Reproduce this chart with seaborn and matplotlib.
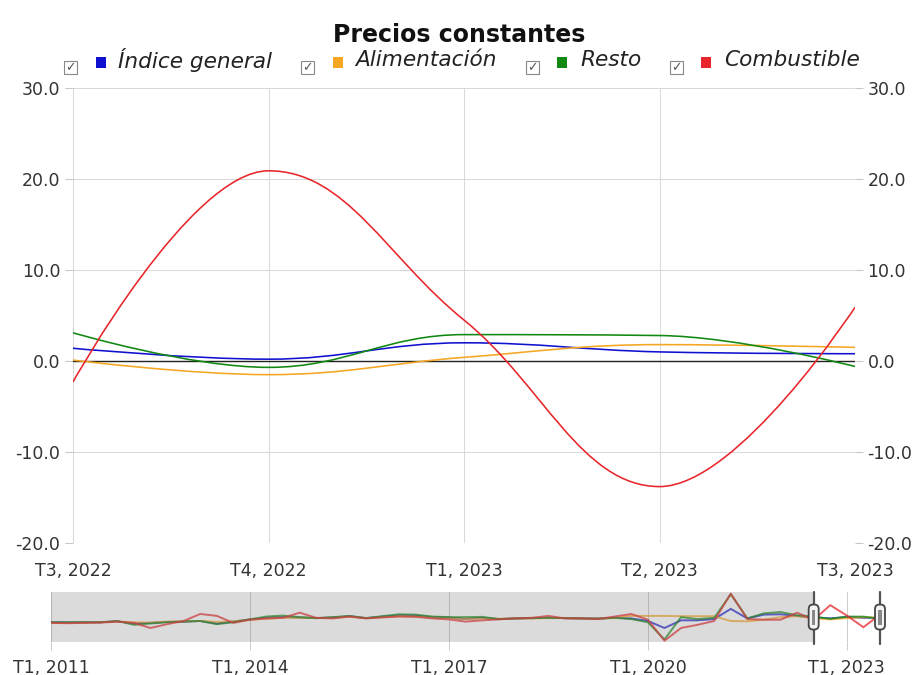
import matplotlib

matplotlib.use("Agg")
import matplotlib.pyplot as plt
import pandas as pd
import seaborn as sns
from matplotlib.patches import FancyBboxPatch, PathPatch, Rectangle
from matplotlib.path import Path
from matplotlib.transforms import ScaledTranslation

# main window, T3 2022 .. T3 2023
main_labels = ["T3, 2022", "T4, 2022", "T1, 2023", "T2, 2023", "T3, 2023"]
indice_general = [1.4, 0.2, 2.0, 1.0, 0.8]
alimentacion = [0.1, -1.5, 0.4, 1.8, 1.5]
resto = [3.1, -0.7, 2.9, 2.8, -0.6]
combustible = [-2.3, 20.9, 4.5, -13.8, 5.9]

# navigator history, T1 2011 .. T2 2022 (main window values follow)
hist_indice = [-6.0, -6.2, -6.0, -6.0, -4.5, -8.0, -7.0, -5.5, -5.0, -4.0,
               -8.0, -5.0, -1.5, 1.0, 2.0, 1.5, 0.5, 1.5, 3.5, 0.5,
               3.0, 5.0, 4.5, 2.0, 1.5, -1.0, 1.0, -1.0, 0.0, 0.5,
               1.0, 0.5, 0.0, 0.0, 1.0, 0.0, -4.0, -15.0, -3.0, -3.0,
               -1.0, 15.0, 0.0, 6.0, 6.5, 4.0]
hist_alim = [-7.0, -7.0, -6.5, -6.0, -5.0, -6.0, -6.5, -5.0, -4.5, -4.0,
             -5.5, -4.5, -2.0, -0.5, 1.0, 1.0, 0.5, 1.0, 2.5, 0.5,
             2.0, 3.5, 3.0, 1.5, 1.0, -1.0, 0.0, -0.5, 0.0, 0.0,
             0.5, 0.5, 0.0, 0.0, 0.5, 4.0, 4.0, 4.0, 3.5, 3.5,
             3.5, -4.0, -4.5, -2.0, 2.0, 3.5]
hist_resto = [-6.0, -6.0, -6.0, -6.0, -4.0, -10.0, -8.0, -6.0, -5.0, -4.0,
              -9.0, -6.0, -1.5, 3.0, 4.5, 2.0, 0.5, 2.0, 4.0, 0.5,
              3.5, 6.5, 6.0, 3.0, 2.0, 2.0, 2.5, -1.0, 0.0, 0.5,
              1.0, 0.5, 0.0, -0.5, 1.0, -1.0, -6.0, -33.0, 2.0, -1.0,
              1.0, 38.0, 0.0, 8.0, 10.0, 5.0]
hist_comb = [-7.0, -7.5, -7.0, -6.5, -5.0, -7.0, -15.0, -9.0, -4.0, 7.0,
             4.0, -7.0, -2.0, 0.0, 1.0, 9.0, 1.0, 0.0, 3.0, 0.0,
             1.5, 3.0, 2.5, 0.0, -1.5, -5.0, -3.0, -1.5, 0.0, 1.0,
             4.0, 0.0, 0.0, -1.0, 3.0, 7.0, -2.0, -35.0, -15.0, -10.0,
             -4.0, 39.0, -1.0, -2.0, -2.0, 9.0]

series_names = ["Índice general", "Alimentación", "Resto", "Combustible"]
colors = ["#1010d0", "#f5a623", "#118811", "#e8262b"]
main_values = [indice_general, alimentacion, resto, combustible]
hist_values = [hist_indice, hist_alim, hist_resto, hist_comb]

periods = pd.period_range("2011Q1", "2023Q3", freq="Q")
nav_tick_pos = [0, 12, 24, 36, 48]
nav_tick_labels = [f"T{periods[i].quarter}, {periods[i].year}" for i in nav_tick_pos]
window_start = len(hist_indice)

sns.set_theme(style="whitegrid")
plt.rcParams["font.family"] = ["DejaVu Sans"]
TXT = "#333333"
W, H = 919, 675


def spline_path(xs, ys, smoothing=1.5):
    # highcharts-like spline: bezier through every point, flat at extremes
    n = len(xs)
    left, right = [None] * n, [None] * n
    denom = smoothing + 1
    for i in range(1, n - 1):
        lx, ly, px, py, nx, ny = xs[i - 1], ys[i - 1], xs[i], ys[i], xs[i + 1], ys[i + 1]
        lcx, lcy = (smoothing * px + lx) / denom, (smoothing * py + ly) / denom
        rcx, rcy = (smoothing * px + nx) / denom, (smoothing * py + ny) / denom
        corr = (rcy - lcy) * (rcx - px) / (rcx - lcx) + py - rcy
        lcy += corr
        rcy += corr
        if lcy > ly and lcy > py:
            lcy = max(ly, py); rcy = 2 * py - lcy
        elif lcy < ly and lcy < py:
            lcy = min(ly, py); rcy = 2 * py - lcy
        if rcy > ny and rcy > py:
            rcy = max(ny, py); lcy = 2 * py - rcy
        elif rcy < ny and rcy < py:
            rcy = min(ny, py); lcy = 2 * py - rcy
        left[i], right[i] = (lcx, lcy), (rcx, rcy)
    verts, codes = [(xs[0], ys[0])], [Path.MOVETO]
    for i in range(1, n):
        verts += [right[i - 1] or (xs[i - 1], ys[i - 1]), left[i] or (xs[i], ys[i]), (xs[i], ys[i])]
        codes += [Path.CURVE4] * 3
    return Path(verts, codes)


fig = plt.figure(figsize=(W / 100, H / 100), dpi=100)
ax = fig.add_axes([73 / W, 1 - 543 / H, 782 / W, 455 / H])
nav = fig.add_axes([51 / W, 1 - 642 / H, 829 / W, 50 / H])

# ---- main chart
xs = list(range(len(main_labels)))
for vals, col in zip(main_values, colors):
    ax.add_patch(PathPatch(spline_path(xs, vals), fill=False, edgecolor=col, lw=1.15, zorder=3))
ax.axhline(0, color="#222222", lw=1.0, zorder=2)
ax.set_xlim(0, 4)
ax.set_ylim(-20, 30)
ax.set_xticks(xs, main_labels)
ax.set_yticks(range(-20, 31, 10))
ax.yaxis.set_major_formatter(matplotlib.ticker.FuncFormatter(lambda v, _: f"{v:.1f}"))
ax.grid(True, color="#d9d9d9", lw=0.75)
ax.set_facecolor("white")
for s in ax.spines.values():
    s.set_visible(False)
ax.tick_params(axis="y", left=True, right=True, labelleft=True, labelright=True,
               length=6, width=0.75, color="#c8c8c8", pad=3, labelsize=12.5, labelcolor=TXT)
ax.tick_params(axis="x", bottom=False, pad=8, labelsize=12.5, labelcolor=TXT)

# ---- navigator
nav_df = pd.concat(
    [pd.DataFrame({"q": range(len(periods)), "valor": h + m, "serie": name})
     for name, h, m in zip(series_names, hist_values, main_values)],
    ignore_index=True,
)
sns.lineplot(data=nav_df, x="q", y="valor", hue="serie", hue_order=series_names,
             palette=colors, lw=1.4, alpha=0.75, legend=False, ax=nav, zorder=3)
nav.set_xlim(0, len(periods) - 1)
nav.set_ylim(-37, 41.5)
nav.set_xlabel("")
nav.set_ylabel("")
nav.set_yticks([])
nav.set_xticks(nav_tick_pos, nav_tick_labels)
nav.grid(True, axis="x", color="#cccccc", lw=0.75)
nav.grid(False, axis="y")
nav.set_facecolor("white")
for s in nav.spines.values():
    s.set_visible(False)
nav.tick_params(axis="x", bottom=True, length=6, width=0.75, color="#cccccc", pad=6,
                labelsize=12.5, labelcolor=TXT)
nav.axvspan(0, window_start, color=(0.5, 0.5, 0.5), alpha=0.28, lw=0, zorder=4)

for hx in (window_start, len(periods) - 1):
    nav.axvline(hx, color="#555555", lw=1.6, zorder=5, ymin=-0.04, ymax=1.0, clip_on=False)
    off = fig.dpi_scale_trans + ScaledTranslation(hx, 2.2, nav.transData)
    nav.add_patch(FancyBboxPatch((-0.05, -0.125), 0.10, 0.25,
                                 boxstyle="round,pad=0,rounding_size=0.045",
                                 facecolor="#f4f4f4", edgecolor="#444444", lw=1.3,
                                 transform=off, zorder=6, clip_on=False))
    nav.add_patch(Rectangle((-0.017, -0.075), 0.034, 0.15, facecolor="#888888",
                            edgecolor="none", transform=off, zorder=7, clip_on=False))

# ---- title and legend
fig.text(0.5, 1 - 35 / H, "Precios constantes", ha="center", va="center",
         fontsize=17, fontweight="bold", color="#111111")

renderer = fig.canvas.get_renderer()
text_y = 1 - 60 / H
texts = [fig.text(0, text_y, name, ha="left", va="center", fontsize=15.6,
                  fontstyle="italic", color="#222222") for name in series_names]
widths = [t.get_window_extent(renderer).width for t in texts]

cb_to_sq, sq_to_tx, tx_to_cb = 30, 18, 35
total = sum(cb_to_sq + sq_to_tx + w for w in widths) + tx_to_cb * (len(texts) - 1)
x = 860 - total
for tx, w, col in zip(texts, widths, colors):
    # checkbox
    fig.add_artist(Rectangle(((x - 6.5) / W, 1 - 74 / H), 13 / W, 13 / H, transform=fig.transFigure,
                             facecolor="white", edgecolor="#888888", lw=0.8))
    fig.text(x / W, 1 - 67.5 / H, "\u2713", ha="center", va="center", fontsize=9,
             color="#555555")
    # colour square
    sx = x + cb_to_sq
    fig.add_artist(Rectangle(((sx - 5) / W, 1 - 67.5 / H), 10 / W, 10 / H,
                             transform=fig.transFigure, facecolor=col, edgecolor="none"))
    tx.set_x((sx + sq_to_tx) / W)
    x = sx + sq_to_tx + w + tx_to_cb

fig.savefig("out.png", dpi=100)
